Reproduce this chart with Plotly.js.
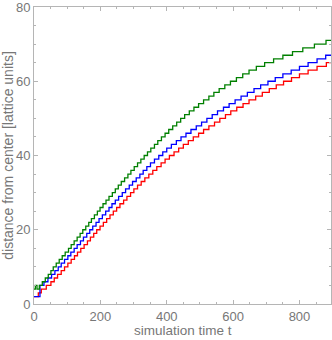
<!DOCTYPE html>
<html lang="en">
<head>
    <meta charset="UTF-8">
    <title>distance from center</title>
    <script src="https://cdn.plot.ly/plotly-3.0.1.min.js"></script>
    <style>
        body { margin: 0; background: white; }
        #plot { width: 332px; height: 340px; }
    </style>
</head>
<body>
    <div id="plot"></div>
    <script>
        // step times (simulation time t) and distance values
        const greenT = [0, 4, 9, 16, 25, 34, 43, 51, 58, 67, 76, 85, 94, 104, 112, 121, 130, 139, 147, 156, 165, 173, 182, 191, 199,
            208, 217, 226, 236, 245, 254, 263, 273, 283, 292, 302, 312, 322, 332, 342, 352, 363, 373, 384, 395, 406, 418, 430, 442,
            454, 468, 482, 496, 511, 527, 542, 558, 575, 592, 610, 629, 648, 670, 695, 722, 750, 779, 810, 845, 880, 900];
        const greenD = [4, 5, 4, 5, 6, 7, 8, 9, 10, 11, 12, 13, 14, 15, 16, 17, 18, 19, 20, 21, 22, 23, 24, 25, 26,
            27, 28, 29, 30, 31, 32, 33, 34, 35, 36, 37, 38, 39, 40, 41, 42, 43, 44, 45, 46, 47, 48, 49, 50,
            51, 52, 53, 54, 55, 56, 57, 58, 59, 60, 61, 62, 63, 64, 65, 66, 67, 68, 69, 70, 71, 71];

        const blueT = [0, 18, 30, 42, 53, 63, 73, 82, 92, 102, 111, 121, 130, 140, 149, 159, 168, 177, 187, 196,
            206, 216, 226, 235, 245, 255, 266, 276, 287, 297, 308, 319, 329, 340, 351, 363, 376, 388, 400,
            414, 429, 443, 458, 473, 489, 505, 521, 537, 553, 571, 588, 606, 624, 643, 663, 683, 705, 727,
            750, 775, 800, 826, 853, 879, 900];
        const blueD = [2, 5, 6, 7, 8, 9, 10, 11, 12, 13, 14, 15, 16, 17, 18, 19, 20, 21, 22, 23,
            24, 25, 26, 27, 28, 29, 30, 31, 32, 33, 34, 35, 36, 37, 38, 39, 40, 41, 42,
            43, 44, 45, 46, 47, 48, 49, 50, 51, 52, 53, 54, 55, 56, 57, 58, 59, 60, 61,
            62, 63, 64, 65, 66, 67, 67];

        const redT = [0, 13, 22, 37, 51, 61, 71, 82, 92, 102, 112, 122, 131, 141, 151, 161, 170, 180, 189, 199,
            209, 219, 229, 239, 249, 259, 270, 280, 291, 301, 312, 323, 334, 346, 358, 370, 383, 395,
            408, 422, 436, 450, 465, 480, 496, 511, 527, 544, 560, 577, 593, 611, 630, 648, 668, 688,
            709, 730, 752, 776, 800, 826, 853, 881, 900];
        const redD = [2, 3, 4, 5, 6, 7, 8, 9, 10, 11, 12, 13, 14, 15, 16, 17, 18, 19, 20, 21,
            22, 23, 24, 25, 26, 27, 28, 29, 30, 31, 32, 33, 34, 35, 36, 37, 38, 39,
            40, 41, 42, 43, 44, 45, 46, 47, 48, 49, 50, 51, 52, 53, 54, 55, 56, 57,
            58, 59, 60, 61, 62, 63, 64, 65, 65];

        const xTicks = [0, 200, 400, 600, 800];
        const yTicks = [0, 20, 40, 60, 80];

        const gray = "#777777";
        const frame = "#b5b5b5";
        const fontFamily = "Liberation Sans, Arial, sans-serif";

        function stepTrace(t, d, color) {
            return {
                x: t, y: d, type: "scatter", mode: "lines",
                line: { shape: "hv", color: color, width: 1.3 },
                hoverinfo: "skip"
            };
        }

        const axisCommon = {
            showgrid: false, zeroline: false,
            showline: true, linecolor: frame, linewidth: 1, mirror: "ticks",
            ticks: "inside", ticklen: 4, tickcolor: frame, tickwidth: 1,
            ticklabeloverflow: "allow",
            tickfont: { family: fontFamily, size: 13, color: gray },
            minor: { ticks: "inside", ticklen: 2, tickcolor: frame, tickwidth: 1 },
            automargin: false
        };

        Plotly.newPlot("plot", [
            stepTrace(redT, redD, "rgb(255,0,0)"),
            stepTrace(blueT, blueD, "rgb(0,0,255)"),
            stepTrace(greenT, greenD, "rgb(0,128,0)")
        ], {
            width: 332, height: 340,
            margin: { l: 34, r: 1, t: 7, b: 36 },
            paper_bgcolor: "white", plot_bgcolor: "white",
            showlegend: false,
            xaxis: Object.assign({}, axisCommon, {
                range: [0, 895], tickvals: xTicks, ticktext: xTicks.map(String),
                minor: Object.assign({}, axisCommon.minor, { dtick: 50, tick0: 0 })
            }),
            yaxis: Object.assign({}, axisCommon, {
                range: [0, 80], tickvals: yTicks, ticktext: yTicks.map(String),
                minor: Object.assign({}, axisCommon.minor, { dtick: 5, tick0: 0 }),
                title: { text: "distance from center [lattice units]", standoff: 4,
                    font: { family: fontFamily, size: 14, color: gray } }
            }),
            // x title placed as a paper annotation so it can sit lower than the margin allows
            annotations: [{
                text: "simulation time t", xref: "paper", yref: "paper",
                x: 0.5, y: -0.088, xanchor: "center", yanchor: "middle", showarrow: false,
                font: { family: fontFamily, size: 13.5, color: gray }
            }]
        }, { staticPlot: true });
    </script>
</body>
</html>
